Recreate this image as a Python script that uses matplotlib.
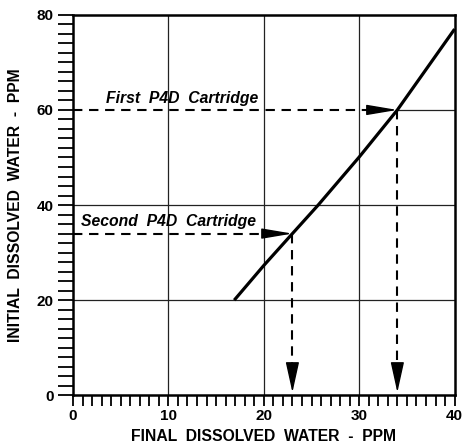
import matplotlib
matplotlib.use("Agg")
import matplotlib.pyplot as plt
from matplotlib.ticker import MultipleLocator

plt.rcParams['font.family'] = ['Liberation Sans', 'DejaVu Sans']

# Curve: final vs initial dissolved water
final_ppm = [16.9, 20.0, 23.0, 25.7, 30.0, 34.0, 40.0]
initial_ppm = [20.0, 27.3, 34.0, 40.0, 50.1, 60.0, 77.0]

# Cartridge read-offs
cart_labels = ["First  P4D  Cartridge", "Second  P4D  Cartridge"]
cart_initial = [60.0, 34.0]
cart_final = [34.0, 23.0]
label_pos = [(3.5, 61.4), (0.8, 35.5)]

x_ticks = [0, 10, 20, 30, 40]
y_ticks = [0, 20, 40, 60, 80]

fig = plt.figure(figsize=(4.62, 4.45), dpi=100)
ax = fig.add_axes([0.158, 0.1117, 0.826, 0.855])
ax.set_xlim(0, 40)
ax.set_ylim(0, 80)

# grid
for gx in [10, 20, 30]:
    ax.plot([gx, gx], [0, 80], color='#222222', lw=0.9, zorder=1)
for gy in [20, 40]:
    ax.plot([0, 40], [gy, gy], color='#222222', lw=0.9, zorder=1)
ax.plot([cart_final[0], 40], [60, 60], color='#222222', lw=0.9, zorder=1)

# curve
ax.plot(final_ppm, initial_ppm, color='black', lw=2.3, solid_capstyle='butt', zorder=4)

# dashed read-off lines with arrows
for lab, yi, xf, (tx, ty) in zip(cart_labels, cart_initial, cart_final, label_pos):
    ax.plot([0, xf - 2.6], [yi, yi], color='black', lw=1.5, ls=(0, (4.5, 3.2)), zorder=3)
    ax.annotate('', xy=(xf, yi), xytext=(xf - 3.0, yi),
                arrowprops=dict(arrowstyle='-|>,head_length=1.9,head_width=0.32',
                                color='black', lw=1.0, shrinkA=0, shrinkB=0,
                                mutation_scale=10), zorder=3)
    ax.plot([xf, xf], [yi, 5.5], color='black', lw=1.5, ls=(0, (4.5, 3.2)), zorder=3)
    ax.annotate('', xy=(xf, 0.6), xytext=(xf, 6.5),
                arrowprops=dict(arrowstyle='-|>,head_length=1.9,head_width=0.42',
                                color='black', lw=1.0, shrinkA=0, shrinkB=0,
                                mutation_scale=10), zorder=3)
    ax.text(tx, ty, lab, fontsize=11.3, fontstyle='italic', fontweight='bold',
            ha='left', va='baseline', zorder=5)

ax.set_xticks(x_ticks)
ax.set_yticks(y_ticks)
ax.xaxis.set_minor_locator(MultipleLocator(1))
ax.yaxis.set_minor_locator(MultipleLocator(2))
ax.tick_params(axis='x', which='both', direction='out', length=8, width=1.3,
               labelsize=11, pad=2)
ax.tick_params(axis='y', which='both', direction='out', length=11, width=1.3,
               labelsize=11, pad=3)
for lbl in ax.get_xticklabels() + ax.get_yticklabels():
    lbl.set_fontweight('bold')

for s in ax.spines.values():
    s.set_linewidth(1.8)

ax.set_xlabel("FINAL  DISSOLVED  WATER  -  PPM", fontsize=11.3, fontweight='bold', labelpad=4)
ax.set_ylabel("INITIAL  DISSOLVED  WATER  -  PPM", fontsize=11.3, fontweight='bold', labelpad=10)

fig.savefig("out.png", dpi=100)
